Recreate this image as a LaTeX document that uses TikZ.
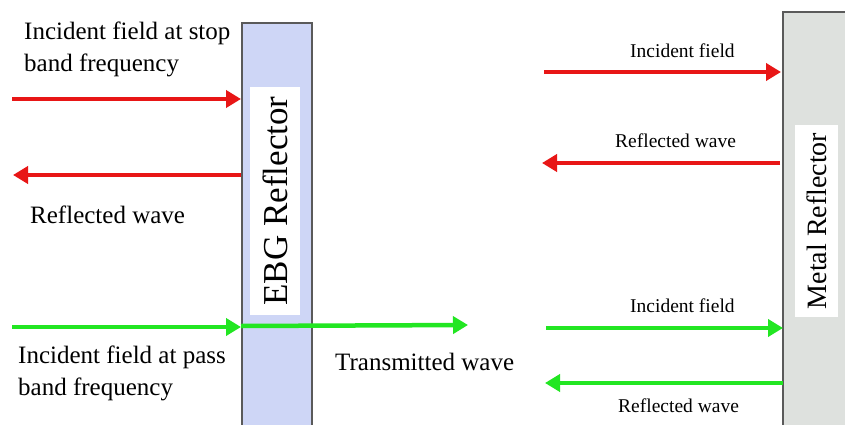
\documentclass[tikz,border=0pt]{standalone}
\usepackage{fontspec}
\setmainfont{Liberation Serif}
\usetikzlibrary{arrows.meta}
\definecolor{wavered}{RGB}{232,22,22}
\definecolor{wavegreen}{RGB}{34,230,34}
\definecolor{ebgfill}{RGB}{206,214,246}
\definecolor{metalfill}{RGB}{222,225,222}
\definecolor{frame}{RGB}{90,90,90}
\tikzset{
  wave/.style={line width=4.5pt,-{Triangle[length=15pt,width=17pt]}},
  redwave/.style={wave,draw=wavered},
  greenwave/.style={wave,draw=wavegreen},
  bigtext/.style={inner sep=0pt,font=\fontsize{25}{32}\selectfont},
  smalltext/.style={inner sep=0pt,font=\fontsize{19.5}{24}\selectfont},
  panel/.style={draw=frame,line width=2.5pt},
  labelbox/.style={fill=white,inner sep=0pt,rotate=90}
}
\begin{document}
\begin{tikzpicture}[x=1pt,y=-1pt]
\useasboundingbox (0,0) rectangle (845,425);
\fill[white] (0,0) rectangle (845,425);
\clip (0,0) rectangle (845,425);

% EBG reflector slab with its label
\draw[panel,fill=ebgfill] (242,23) rectangle (312,440);
\node[labelbox,minimum width=228pt,minimum height=50pt,
      font=\fontsize{35}{40}\selectfont] (ebg) at (275,201) {EBG Reflector};

% Metal reflector with its label
\draw[panel,fill=metalfill] (783,12) rectangle (860,440);
\node[labelbox,minimum width=192pt,minimum height=43pt,
      font=\fontsize{28}{32}\selectfont] (metal) at (816.5,221) {Metal Reflector};

% arrow end points
\coordinate (ri1s) at (12,99);   \coordinate (ri1e) at (241,99);
\coordinate (rr1s) at (241,175); \coordinate (rr1e) at (13,175);
\coordinate (gi1s) at (12,327);  \coordinate (gi1e) at (241,327);
\coordinate (gt1s) at (241,326); \coordinate (gt1e) at (468,325);
\coordinate (ri2s) at (544,72);  \coordinate (ri2e) at (781,72);
\coordinate (rr2s) at (780,163); \coordinate (rr2e) at (542,163);
\coordinate (gi2s) at (546,328); \coordinate (gi2e) at (783,328);
\coordinate (gr2s) at (783,383); \coordinate (gr2e) at (545,383);

% waves at the EBG reflector
\draw[redwave] (ri1s) -- (ri1e);
\draw[redwave] (rr1s) -- (rr1e);
\draw[greenwave] (gt1s) -- (gt1e);
\draw[greenwave] (gi1s) -- (gi1e);

% waves at the metal reflector
\draw[redwave] (ri2s) -- (ri2e);
\draw[redwave] (rr2s) -- (rr2e);
\draw[greenwave] (gi2s) -- (gi2e);
\draw[greenwave] (gr2s) -- (gr2e);

% labels (base anchor of a two-line node sits on its last line)
\node[bigtext,anchor=base west,align=left] (tstop) at (24,72)
  {Incident field at stop\\band frequency};
\node[bigtext,anchor=base west] (trefl1) at (30,223) {Reflected wave};
\node[bigtext,anchor=base west,align=left] (tpass) at (18,395)
  {Incident field at pass\\band frequency};
\node[bigtext,anchor=base west] (ttrans) at (335,370) {Transmitted wave};
\node[smalltext,anchor=base west] (tinc2) at (630,58) {Incident field};
\node[smalltext,anchor=base west] (trefl2) at (615,147) {Reflected wave};
\node[smalltext,anchor=base west] (tinc3) at (630,312) {Incident field};
\node[smalltext,anchor=base west] (trefl3) at (618,412) {Reflected wave};
\end{tikzpicture}
\end{document}
